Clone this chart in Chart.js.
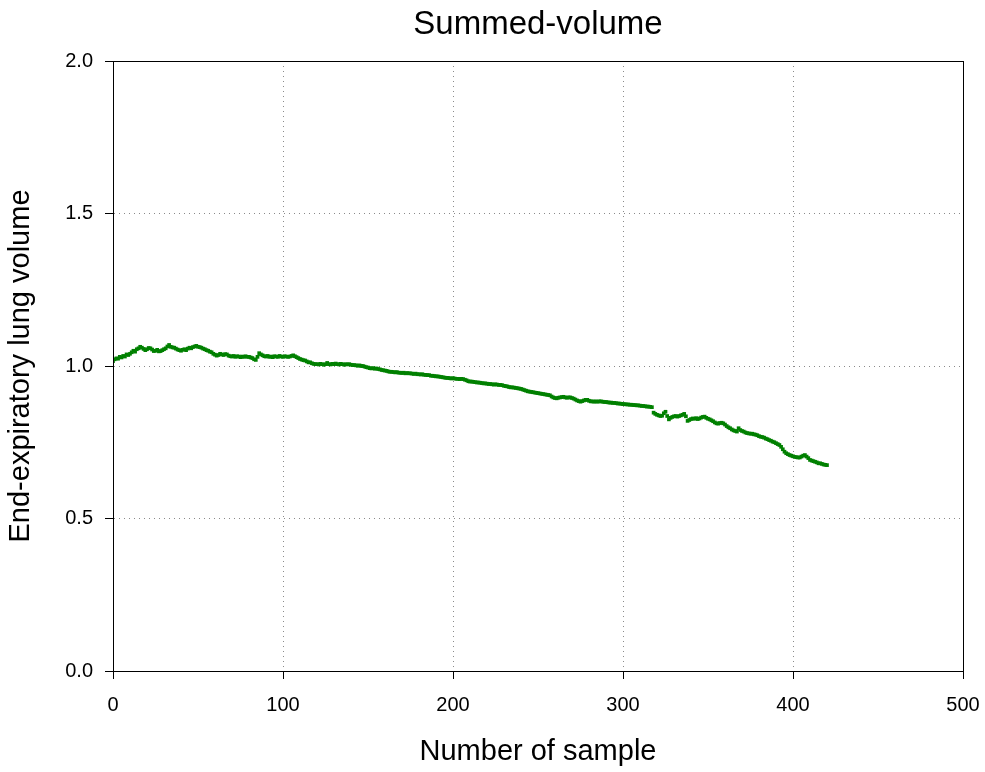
<!DOCTYPE html>
<html>
<head>
<meta charset="utf-8">
<title>Summed-volume</title>
<script src="https://cdn.jsdelivr.net/npm/chart.js@4.4.0/dist/chart.umd.min.js"></script>
<style>
  html, body { margin: 0; padding: 0; background: #fff; }
  #wrap { width: 985px; height: 772px; position: relative; }
</style>
</head>
<body>
<div id="wrap"><canvas id="chartVolume"></canvas></div>
<script>
// End-expiratory lung volume, one value per sample (sample 0 .. 420)
const volume = [
  1.016, 1.022, 1.025, 1.024, 1.030, 1.028, 1.033, 1.031, 1.038, 1.036,
  1.040, 1.045, 1.050, 1.047, 1.055, 1.058, 1.063, 1.060, 1.056, 1.052,
  1.055, 1.059, 1.058, 1.054, 1.049, 1.050, 1.053, 1.048, 1.049, 1.052,
  1.055, 1.058, 1.064, 1.069, 1.063, 1.061, 1.060, 1.057, 1.054, 1.052,
  1.050, 1.053, 1.055, 1.052, 1.057, 1.060, 1.058, 1.062, 1.064, 1.066,
  1.063, 1.062, 1.060, 1.057, 1.055, 1.052, 1.050, 1.047, 1.045, 1.040,
  1.037, 1.034, 1.036, 1.040, 1.038, 1.036, 1.039, 1.038, 1.034, 1.032,
  1.031, 1.033, 1.030, 1.032, 1.031, 1.029, 1.031, 1.030, 1.032, 1.030,
  1.030, 1.028, 1.026, 1.022, 1.020, 1.030, 1.042, 1.038, 1.035, 1.032,
  1.031, 1.033, 1.030, 1.031, 1.029, 1.032, 1.031, 1.030, 1.033, 1.031,
  1.030, 1.032, 1.031, 1.030, 1.031, 1.033, 1.035, 1.032, 1.029, 1.026,
  1.023, 1.021, 1.019, 1.018, 1.015, 1.012, 1.012, 1.009, 1.007, 1.006,
  1.006, 1.005, 1.007, 1.006, 1.004, 1.006, 1.010, 1.006, 1.005, 1.007,
  1.006, 1.008, 1.006, 1.005, 1.007, 1.006, 1.004, 1.006, 1.005, 1.006,
  1.004, 1.003, 1.003, 1.002, 1.001, 1.002, 1.000, 1.000, 0.998, 0.996,
  0.995, 0.993, 0.992, 0.993, 0.991, 0.992, 0.990, 0.989, 0.987, 0.986,
  0.985, 0.984, 0.982, 0.981, 0.981, 0.980, 0.979, 0.980, 0.978, 0.978,
  0.977, 0.978, 0.976, 0.977, 0.976, 0.976, 0.975, 0.974, 0.975, 0.973,
  0.973, 0.972, 0.973, 0.971, 0.971, 0.970, 0.970, 0.968, 0.968, 0.967,
  0.966, 0.966, 0.965, 0.964, 0.963, 0.962, 0.961, 0.961, 0.960, 0.959,
  0.960, 0.959, 0.958, 0.958, 0.957, 0.958, 0.957, 0.955, 0.953, 0.950,
  0.949, 0.949, 0.948, 0.947, 0.946, 0.946, 0.945, 0.944, 0.943, 0.943,
  0.942, 0.941, 0.941, 0.940, 0.939, 0.940, 0.939, 0.938, 0.938, 0.937,
  0.935, 0.934, 0.933, 0.931, 0.930, 0.930, 0.929, 0.928, 0.927, 0.926,
  0.925, 0.923, 0.921, 0.919, 0.917, 0.916, 0.915, 0.914, 0.913, 0.912,
  0.911, 0.910, 0.909, 0.908, 0.907, 0.906, 0.905, 0.904, 0.900, 0.897,
  0.895, 0.894, 0.896, 0.897, 0.898, 0.899, 0.897, 0.896, 0.897, 0.897,
  0.895, 0.893, 0.890, 0.887, 0.885, 0.883, 0.885, 0.887, 0.889, 0.889,
  0.886, 0.884, 0.884, 0.883, 0.884, 0.883, 0.884, 0.884, 0.883, 0.882,
  0.882, 0.881, 0.880, 0.880, 0.879, 0.879, 0.878, 0.877, 0.877, 0.876,
  0.875, 0.875, 0.874, 0.874, 0.873, 0.873, 0.872, 0.872, 0.871, 0.871,
  0.870, 0.869, 0.869, 0.868, 0.867, 0.867, 0.866, 0.865, 0.847, 0.843,
  0.840, 0.838, 0.836, 0.837, 0.845, 0.850, 0.836, 0.825, 0.830, 0.833,
  0.835, 0.836, 0.834, 0.836, 0.838, 0.840, 0.843, 0.835, 0.820, 0.823,
  0.826, 0.828, 0.827, 0.829, 0.826, 0.828, 0.831, 0.833, 0.834, 0.830,
  0.827, 0.825, 0.822, 0.819, 0.815, 0.812, 0.811, 0.813, 0.814, 0.812,
  0.808, 0.803, 0.799, 0.796, 0.792, 0.789, 0.787, 0.785, 0.796, 0.790,
  0.787, 0.785, 0.782, 0.780, 0.779, 0.778, 0.778, 0.776, 0.775, 0.773,
  0.770, 0.768, 0.767, 0.765, 0.762, 0.760, 0.757, 0.755, 0.752, 0.750,
  0.747, 0.744, 0.741, 0.735, 0.727, 0.719, 0.714, 0.711, 0.708, 0.706,
  0.704, 0.702, 0.701, 0.700, 0.700, 0.703, 0.706, 0.708, 0.703, 0.698,
  0.692, 0.690, 0.688, 0.686, 0.684, 0.681, 0.681, 0.679, 0.677, 0.676,
  0.675
];

// Axis ticks
const xTicks = [0, 100, 200, 300, 400, 500];
const yTicks = [0.0, 0.5, 1.0, 1.5, 2.0];
const chartTitle = 'Summed-volume';

const FONT = '"Liberation Sans", Arial, Helvetica, sans-serif';

// Cadre noir + titre centré sur la zone de tracé
const framePlugin = {
  id: 'frame',
  afterDraw(chart) {
    const { ctx, chartArea: a } = chart;
    ctx.save();
    ctx.strokeStyle = '#000';
    ctx.lineWidth = 1;
    ctx.strokeRect(Math.round(a.left) + 0.5, Math.round(a.top) + 0.5,
      Math.round(a.right - a.left), Math.round(a.bottom - a.top));
    ctx.fillStyle = '#000';
    ctx.font = '33px ' + FONT;
    ctx.textAlign = 'center';
    ctx.textBaseline = 'middle';
    ctx.fillText(chartTitle, (a.left + a.right) / 2, 25);
    ctx.restore();
  }
};

const ctx = document.getElementById('chartVolume').getContext('2d');

new Chart(ctx, {
  type: 'scatter',
  data: {
    datasets: [{
      label: chartTitle,
      data: volume.map((v, i) => ({ x: i, y: v })),
      showLine: false,
      pointStyle: 'rect',
      pointRadius: 2.6,
      pointBorderWidth: 0,
      backgroundColor: '#008000',
      borderColor: '#008000'
    }]
  },
  options: {
    responsive: true,
    maintainAspectRatio: false,
    animation: false,
    events: [],
    layout: { padding: { left: 0, right: 22, top: 61, bottom: 0 } },
    plugins: {
      legend: { display: false },
      tooltip: { enabled: false },
      title: { display: false }
    },
    scales: {
      x: {
        type: 'linear',
        min: 0,
        max: 500,
        afterBuildTicks: scale => { scale.ticks = xTicks.map(v => ({ value: v })); },
        afterFit: scale => {
          scale.height = 101;
          scale.paddingLeft = 0;
          scale.paddingRight = 0;
        },
        ticks: {
          color: '#000',
          padding: 14,
          font: { family: FONT, size: 20 },
          callback: v => String(v)
        },
        grid: {
          color: '#8a8a8a',
          lineWidth: 1,
          drawTicks: true,
          tickLength: 8,
          tickColor: '#000',
          tickBorderDash: []
        },
        border: { display: true, color: '#000', width: 1, dash: [1, 4] },
        title: {
          display: true,
          text: 'Number of sample',
          color: '#000',
          font: { family: FONT, size: 29 },
          padding: { top: 4, bottom: 3 }
        }
      },
      y: {
        type: 'linear',
        min: 0,
        max: 2,
        afterBuildTicks: scale => { scale.ticks = yTicks.map(v => ({ value: v })); },
        afterFit: scale => { scale.width = 113; },
        ticks: {
          color: '#000',
          padding: 12,
          font: { family: FONT, size: 20 },
          callback: v => Number(v).toFixed(1)
        },
        grid: {
          color: '#8a8a8a',
          lineWidth: 1,
          drawTicks: true,
          tickLength: 8,
          tickColor: '#000',
          tickBorderDash: []
        },
        border: { display: true, color: '#000', width: 1, dash: [1, 4] },
        title: {
          display: true,
          text: 'End-expiratory lung volume',
          color: '#000',
          font: { family: FONT, size: 29 },
          padding: { top: 4, bottom: 4 }
        }
      }
    }
  },
  plugins: [framePlugin]
});
</script>
</body>
</html>
